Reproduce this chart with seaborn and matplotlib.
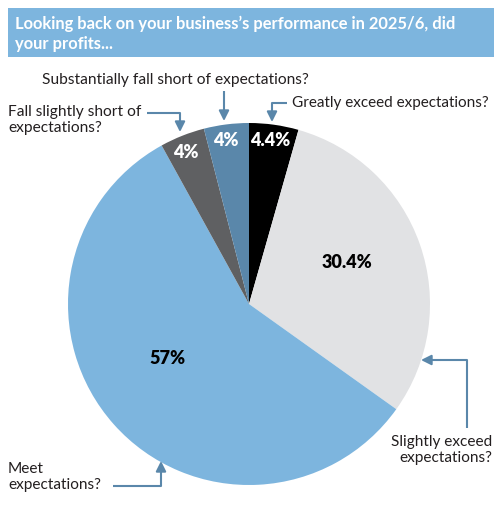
import matplotlib
matplotlib.use("Agg")
import matplotlib.pyplot as plt
import seaborn as sns
from matplotlib.patches import Rectangle

# 数据
categories = ["Greatly exceed expectations?", "Slightly exceed expectations?",
              "Meet expectations?", "Fall slightly short of expectations?",
              "Substantially fall short of expectations?"]
values = [4.4, 30.4, 57, 4, 4]
pct_labels = ["4.4%", "30.4%", "57%", "4%", "4%"]
colors = ["#000000", "#E1E2E4", "#7DB5DE", "#5F6062", "#5A87AA"]
pct_colors = ["white", "black", "black", "white", "white"]
title = "Looking back on your business\u2019s performance in 2025/6, did\nyour profits..."

sns.set_theme(style="white")
plt.rcParams['font.family'] = ['Lato', 'DejaVu Sans']

W, H = 501, 528
fig = plt.figure(figsize=(W / 100, H / 100), dpi=100)
ax = fig.add_axes([0, 0, 1, 1])
ax.set_xlim(0, W)
ax.set_ylim(0, H)
ax.set_aspect('equal')
ax.axis('off')
renderer = fig.canvas.get_renderer()

def Y(py):
    return H - py

def fit_width(t, target):
    # 按参考图宽度缩放字号
    w = t.get_window_extent(renderer).width
    t.set_fontsize(t.get_fontsize() * target / w)

# 标题栏
ax.add_patch(Rectangle((8, Y(57)), 486, 49, color="#7DB5DE", lw=0))
tt = ax.text(15, Y(33.5), title, color="white", fontsize=14, fontweight="bold",
             va="center", ha="left", linespacing=1.3)
fit_width(tt, 445)

# 饼图
cx, cy, r = 249, Y(304), 181
wedges, _ = ax.pie(values, colors=colors, startangle=90, counterclock=False,
                   center=(cx, cy), radius=r, wedgeprops=dict(linewidth=0))
ax.set_xlim(0, W)
ax.set_ylim(0, H)

pct_pos = [(270, 141), (347, 263), (167, 358), (186, 153), (226, 141)]
for (px, py), lab, c in zip(pct_pos, pct_labels, pct_colors):
    ax.text(px, Y(py), lab, color=c, fontsize=13, fontweight="heavy",
            ha="center", va="center")

# 标注箭头
ac = "#5A87AA"
tc = "#231F20"
def elbow(points, tip):
    xs = [p[0] for p in points]
    ys = [Y(p[1]) for p in points]
    ax.plot(xs, ys, color=ac, lw=1.5, solid_capstyle='butt')
    last = points[-1]
    ax.annotate("", xy=(tip[0], Y(tip[1])), xytext=(last[0], Y(last[1])),
                arrowprops=dict(arrowstyle="-|>,head_length=0.5,head_width=0.25",
                                color=ac, lw=1.5, shrinkA=0, shrinkB=0))

t = ax.text(292, Y(103), "Greatly exceed expectations?", fontsize=11, color=tc,
            va="center", ha="left")
fit_width(t, 196)
elbow([(287, 103), (272, 103), (272, 106)], (272, 122))

t = ax.text(175, Y(80), "Substantially fall short of expectations?", fontsize=11,
            color=tc, va="center", ha="center")
fit_width(t, 266)
elbow([(224, 91), (224, 95)], (224, 121))

t = ax.text(8, Y(120), "Fall slightly short of\nexpectations?", fontsize=11, color=tc,
            va="center", ha="left", linespacing=1.25)
fit_width(t, 133)
elbow([(147, 113), (180, 113), (180, 116)], (180, 132))

t = ax.text(492, Y(450), "Slightly exceed\nexpectations?", fontsize=11, color=tc,
            va="center", ha="right", multialignment="right", linespacing=1.25)
fit_width(t, 101)
elbow([(467, 428), (467, 360), (440, 360)], (421, 360))

t = ax.text(8, Y(477), "Meet\nexpectations?", fontsize=11, color=tc,
            va="center", ha="left", linespacing=1.25)
fit_width(t, 93)
elbow([(113, 486), (161, 486), (161, 478)], (161, 461))

fig.savefig("out.png", dpi=100)
